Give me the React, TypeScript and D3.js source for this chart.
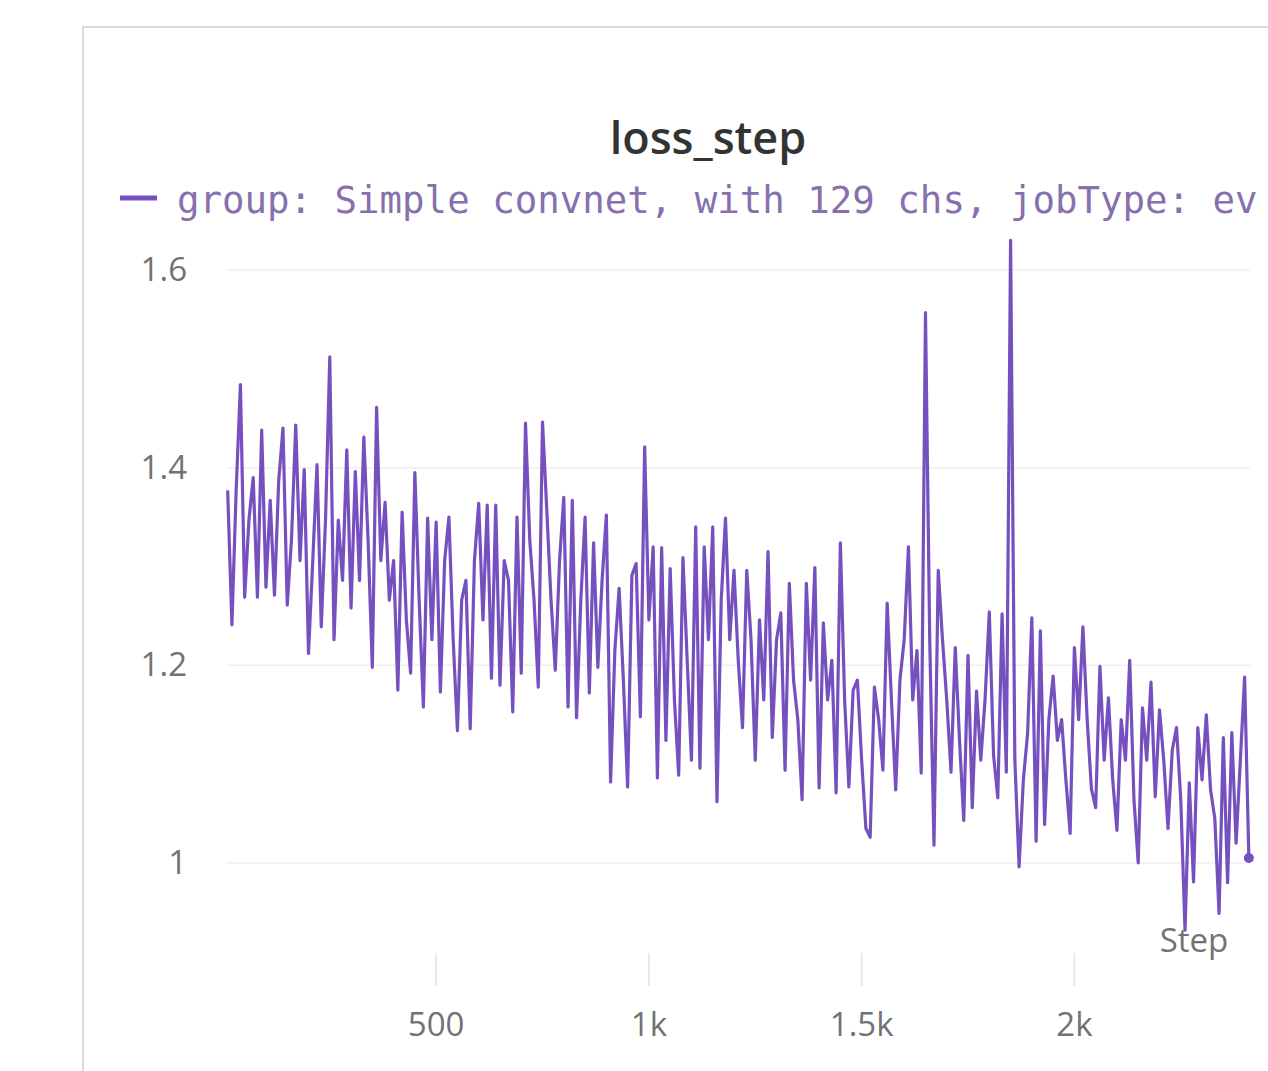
import React from "react";
import * as d3 from "d3";

const title = "loss_step";
const legendLabel = "group: Simple convnet, with 129 chs, jobType: ev";
const xTickValues = [500, 1000, 1500, 2000];
const xTickLabels = ["500", "1k", "1.5k", "2k"];
const yTickValues = [1.0, 1.2, 1.4, 1.6];
const yTickLabels = ["1", "1.2", "1.4", "1.6"];
const xAxisTitle = "Step";

// loss values, one every 10 steps starting at step 10
const lossValues = [
  1.377, 1.241, 1.377, 1.484, 1.269, 1.347, 1.39, 1.269, 1.438, 1.279,
  1.367, 1.271, 1.387, 1.44, 1.261, 1.327, 1.443, 1.306, 1.398, 1.212,
  1.306, 1.403, 1.239, 1.347, 1.512, 1.226, 1.347, 1.286, 1.418, 1.258,
  1.396, 1.286, 1.431, 1.327, 1.198, 1.461, 1.306, 1.365, 1.266, 1.306,
  1.175, 1.355, 1.246, 1.192, 1.395, 1.266, 1.158, 1.349, 1.226, 1.345,
  1.173, 1.306, 1.35, 1.226, 1.134, 1.266, 1.286, 1.136, 1.306, 1.364,
  1.246, 1.362, 1.187, 1.362, 1.18, 1.306, 1.286, 1.153, 1.35, 1.192,
  1.445, 1.327, 1.266, 1.178, 1.446, 1.357, 1.266, 1.195, 1.306, 1.37,
  1.158, 1.367, 1.147, 1.266, 1.35, 1.172, 1.324, 1.198, 1.286, 1.352,
  1.082, 1.215, 1.278, 1.185, 1.077, 1.291, 1.303, 1.148, 1.421, 1.246,
  1.32, 1.086, 1.319, 1.124, 1.298, 1.165, 1.089, 1.309, 1.205, 1.104,
  1.34, 1.096, 1.32, 1.226, 1.34, 1.062, 1.266, 1.349, 1.226, 1.296,
  1.205, 1.137, 1.296, 1.226, 1.104, 1.246, 1.165, 1.315, 1.127, 1.226,
  1.253, 1.094, 1.283, 1.185, 1.145, 1.064, 1.283, 1.185, 1.299, 1.076,
  1.243, 1.165, 1.205, 1.071, 1.324, 1.165, 1.077, 1.175, 1.185, 1.104,
  1.035, 1.026, 1.178, 1.145, 1.094, 1.263, 1.165, 1.074, 1.185, 1.226,
  1.32, 1.165, 1.215, 1.091, 1.557, 1.226, 1.018, 1.296, 1.226, 1.165,
  1.092, 1.218, 1.124, 1.043, 1.21, 1.056, 1.174, 1.104, 1.165, 1.254,
  1.109, 1.066, 1.252, 1.092, 1.63, 1.105, 0.996, 1.084, 1.131, 1.248,
  1.022, 1.235, 1.039, 1.145, 1.189, 1.124, 1.145, 1.084, 1.03, 1.218,
  1.145, 1.239, 1.145, 1.075, 1.056, 1.199, 1.104, 1.167, 1.084, 1.033,
  1.145, 1.104, 1.205, 1.064, 1.0, 1.157, 1.104, 1.183, 1.067, 1.155,
  1.104, 1.035, 1.114, 1.137, 1.064, 0.932, 1.081, 0.981, 1.137, 1.084,
  1.15, 1.074, 1.045, 0.949, 1.127, 0.98, 1.132, 1.02, 1.104, 1.188,
  1.005,
];
const steps = lossValues.map((_, i) => 10 + i * 10);

const W = 1268;
const H = 1071;
const LINE = "#7650bf";

export default function App() {
  const x = d3.scaleLinear().domain([0, 2000]).range([223.4, 1074.4]);
  const y = d3.scaleLinear().domain([1.0, 1.6]).range([863, 270]);
  const data = steps.map((s, i) => [s, lossValues[i]] as [number, number]);
  const line = d3
    .line<[number, number]>()
    .x((d) => x(d[0]))
    .y((d) => y(d[1]));
  const last = data[data.length - 1];
  const sans = "'Open Sans', sans-serif";

  return (
    <svg
      width={W}
      height={H}
      style={{ position: "absolute", left: 0, top: 0, display: "block", background: "#fff" }}
    >
      <rect x={0} y={0} width={W} height={H} fill="#fff" />
      <path d={`M83,${H} V27 H${W}`} fill="none" stroke="#dadada" strokeWidth={2} />

      <text x={708} y={154} textAnchor="middle" fontFamily={sans} fontWeight={600} fontSize={45} fill="#333">
        {title}
      </text>

      <line x1={120} x2={157} y1={198} y2={198} stroke={LINE} strokeWidth={5} />
      <text x={177} y={213} fontFamily="'DejaVu Sans Mono', monospace" fontSize={37.4} fill="#8670ad">
        {legendLabel}
      </text>

      {yTickValues.map((v, i) => (
        <g key={"y" + i}>
          <line x1={226} x2={1250} y1={y(v)} y2={y(v)} stroke="#efefef" strokeWidth={1.5} />
          <text x={187} y={y(v) + 11} textAnchor="end" fontFamily={sans} fontSize={33} fill="#727272">
            {yTickLabels[i]}
          </text>
        </g>
      ))}

      {xTickValues.map((v, i) => (
        <g key={"x" + i}>
          <line x1={x(v)} x2={x(v)} y1={953} y2={986} stroke="#e2e2e2" strokeWidth={1.5} />
          <text x={x(v)} y={1036} textAnchor="middle" fontFamily={sans} fontSize={33} fill="#727272">
            {xTickLabels[i]}
          </text>
        </g>
      ))}

      <path d={line(data) || ""} fill="none" stroke={LINE} strokeWidth={3.2} strokeLinejoin="round" />
      <circle cx={x(last[0])} cy={y(last[1])} r={5} fill={LINE} />

      <text x={1194} y={952} textAnchor="middle" fontFamily={sans} fontSize={33} fill="#727272">
        {xAxisTitle}
      </text>
    </svg>
  );
}
